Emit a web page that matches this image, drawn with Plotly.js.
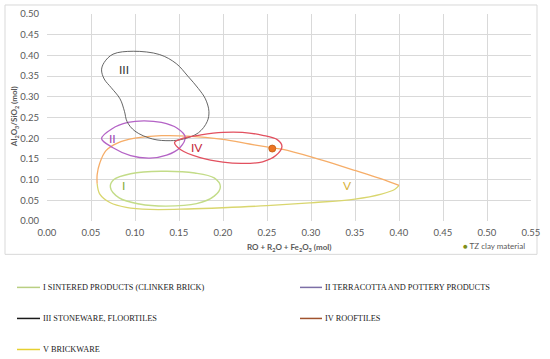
<!DOCTYPE html>
<html><head><meta charset="utf-8">
<script src="https://cdn.plot.ly/plotly-3.0.1.min.js"></script>
<style>html,body{margin:0;padding:0;background:#fff}#chart{width:550px;height:359px}</style>
</head><body><div id="chart"></div>
<script>
// Region I – sintered products (clinker brick)
const I_x = [0.197,0.190,0.168,0.130,0.095,0.076,0.072,0.082,0.105,0.135,0.170,0.190,0.197];
const I_y = [0.083,0.104,0.116,0.120,0.114,0.100,0.082,0.056,0.041,0.036,0.042,0.060,0.083];
// Region II – terracotta and pottery
const II_x = [0.062,0.074,0.092,0.110,0.130,0.148,0.157,0.151,0.136,0.117,0.095,0.075,0.062];
const II_y = [0.199,0.223,0.238,0.242,0.238,0.224,0.203,0.177,0.159,0.152,0.158,0.177,0.199];
// Region III – stoneware, floortiles
const III_x = [0.062,0.065,0.075,0.098,0.128,0.147,0.160,0.172,0.180,0.184,0.182,0.172,0.155,0.140,0.120,0.100,0.091,0.088,0.083,0.073,0.065,0.062];
const III_y = [0.365,0.383,0.403,0.410,0.402,0.380,0.350,0.320,0.295,0.265,0.240,0.213,0.198,0.194,0.198,0.217,0.240,0.265,0.295,0.322,0.343,0.365];
// Region IV – rooftiles
const IV_x = [0.267,0.262,0.245,0.222,0.200,0.175,0.155,0.145,0.152,0.174,0.200,0.222,0.245,0.260,0.267];
const IV_y = [0.180,0.196,0.207,0.214,0.214,0.208,0.200,0.190,0.172,0.153,0.142,0.139,0.143,0.158,0.180];
// Region V – brickware (upper and lower edge)
const V_up_x = [0.400,0.390,0.350,0.300,0.268,0.255,0.230,0.200,0.160,0.130,0.100,0.080,0.067,0.060,0.057,0.057];
const V_up_y = [0.086,0.094,0.122,0.155,0.173,0.177,0.186,0.197,0.205,0.206,0.200,0.188,0.170,0.140,0.112,0.090];
const V_lo_x = [0.057,0.060,0.072,0.090,0.117,0.160,0.200,0.250,0.300,0.350,0.380,0.395,0.400];
const V_lo_y = [0.090,0.065,0.044,0.033,0.028,0.029,0.032,0.037,0.044,0.053,0.065,0.076,0.086];
// TZ clay material
const TZ_x = [0.256];
const TZ_y = [0.175];
// Region labels
const lab_text = ['I','II','III','IV','V'];
const lab_x = [0.087,0.074,0.087,0.171,0.342];
const lab_y = [0.085,0.200,0.365,0.178,0.086];
const lab_col = ['#86ad3c','#9b45b5','#3a3a3a','#c4283a','#d8b23a'];
// Legend
const leg_text = ['I SINTERED PRODUCTS (CLINKER BRICK)','II TERRACOTTA AND POTTERY PRODUCTS','III STONEWARE, FLOORTILES','IV ROOFTILES','V BRICKWARE'];
const leg_col = ['#b9cf82','#7c6fa6','#1a1a1a','#a0522d','#e6d030'];
const xTicks = [0,0.05,0.1,0.15,0.2,0.25,0.3,0.35,0.4,0.45,0.5,0.55];
const yTicks = [0,0.05,0.1,0.15,0.2,0.25,0.3,0.35,0.4,0.45,0.5];

function loop(x,y,color,w){
  return {x:x,y:y,type:'scatter',mode:'lines',line:{color:color,width:w,shape:'spline',smoothing:1},
    hoverinfo:'skip',showlegend:false};
}
const traces = [
  loop(V_lo_x,V_lo_y,'#d9d66e',1.3),
  loop(V_up_x,V_up_y,'#f6ad68',1.3),
  loop(I_x,I_y,'#c3dc88',1.4),
  loop(II_x,II_y,'#b463c6',1.3),
  loop(III_x,III_y,'#555555',0.9),
  loop(IV_x,IV_y,'#e2505f',1.3),
  {x:TZ_x,y:TZ_y,type:'scatter',mode:'markers',marker:{color:'#ec7422',size:7,line:{color:'#c05a10',width:0.8}},showlegend:false}
];

// paper-coordinate helpers (plot area: x 47..531 px, y 14..220.7 px)
const px = p => (p-47)/484;
const py = p => (220.7-p)/206.7;

const shapes = [{type:'rect',xref:'paper',yref:'paper',x0:px(5),x1:px(537),y0:py(254),y1:py(5),
  line:{color:'#d9d9d9',width:1},fillcolor:'rgba(0,0,0,0)',layer:'below'}];
const annotations = [];
lab_text.forEach((t,i)=>annotations.push({x:lab_x[i],y:lab_y[i],xref:'x',yref:'y',text:t,showarrow:false,
  font:{family:'Lato, Carlito, sans-serif',size:12,color:lab_col[i]}}));
const legPos = [[17,287],[300,287],[17,318],[300,318],[17,349]];
leg_text.forEach((t,i)=>{
  const [lx,ly]=legPos[i];
  const w = lx<100?23:22;
  shapes.push({type:'line',xref:'paper',yref:'paper',x0:px(lx),x1:px(lx+w),y0:py(ly),y1:py(ly),line:{color:leg_col[i],width:1.5}});
  annotations.push({xref:'paper',yref:'paper',x:px(lx+w+1),y:py(ly),xanchor:'left',yanchor:'middle',showarrow:false,
    text:t,font:{family:'Liberation Serif, Times New Roman, serif',size:8.3,color:'#222'}});
});
annotations.push({xref:'paper',yref:'paper',x:px(461),y:py(246),xanchor:'left',yanchor:'middle',showarrow:false,
  text:'<span style="color:#7f8f1a">●</span> TZ clay material',font:{family:'Lato, sans-serif',size:8,color:'#595959'}});
annotations.push({xref:'paper',yref:'paper',x:px(289),y:py(247),xanchor:'center',yanchor:'middle',showarrow:false,
  text:'<b>RO + R<sub>2</sub>O + Fe<sub>2</sub>O<sub>3</sub> (mol)</b>',font:{family:'Lato, sans-serif',size:8,color:'#595959'}});
annotations.push({xref:'paper',yref:'paper',x:px(14),y:py(117),xanchor:'center',yanchor:'middle',showarrow:false,textangle:-90,
  text:'<b>Al<sub>2</sub>O<sub>3</sub>/SiO<sub>2</sub> (mol)</b>',font:{family:'Lato, sans-serif',size:8,color:'#595959'}});

const layout = {
  width:550,height:359,margin:{l:47,r:19,t:14,b:138.3},
  paper_bgcolor:'#fff',plot_bgcolor:'#fff',showlegend:false,
  xaxis:{range:[0,0.55],tickvals:xTicks,tickformat:'.2f',showgrid:true,gridcolor:'#d9d9d9',gridwidth:1,
    zeroline:false,showline:false,ticks:'',tickfont:{family:'Lato, sans-serif',size:9.5,color:'#595959'},ticklabelstandoff:4},
  yaxis:{range:[0,0.5],tickvals:yTicks,tickformat:'.2f',showgrid:true,gridcolor:'#d9d9d9',gridwidth:1,
    zeroline:false,showline:false,ticks:'',tickfont:{family:'Lato, sans-serif',size:9.5,color:'#595959'},ticklabelstandoff:7},
  shapes:shapes,annotations:annotations
};
Plotly.newPlot('chart',traces,layout,{displayModeBar:false,staticPlot:true});
</script></body></html>
